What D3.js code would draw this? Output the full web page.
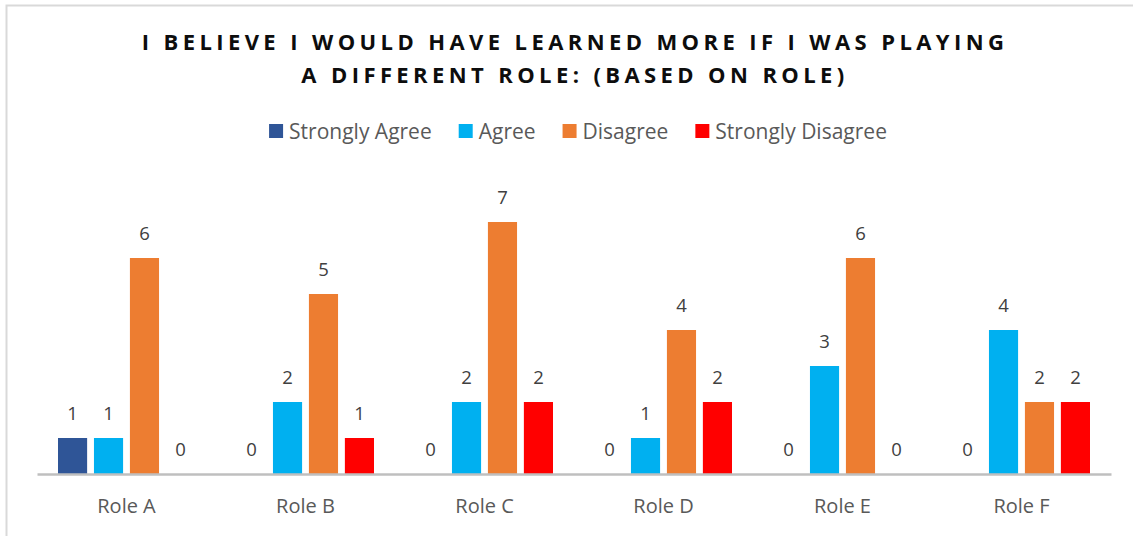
<!DOCTYPE html>
<html>
<head>
<meta charset="utf-8">
<script src="https://cdn.jsdelivr.net/npm/d3@7"></script>
<style>
  body { margin: 0; background: #fff; }
  svg text { font-family: "Open Sans", "Liberation Sans", sans-serif; }
</style>
</head>
<body>
<svg id="chart" width="1133" height="536"></svg>
<script>
const roles = ["Role A", "Role B", "Role C", "Role D", "Role E", "Role F"];
const seriesNames = ["Strongly Agree", "Agree", "Disagree", "Strongly Disagree"];
const seriesColors = ["#2F5597", "#00B0F0", "#ED7D31", "#FF0000"];
const stronglyAgree = [1, 0, 0, 0, 0, 0];
const agree = [1, 2, 2, 1, 3, 4];
const disagree = [6, 5, 7, 4, 6, 2];
const stronglyDisagree = [0, 1, 2, 2, 0, 2];
const titleLines = ["I BELIEVE I WOULD HAVE LEARNED MORE IF I WAS PLAYING", "A DIFFERENT ROLE: (BASED ON ROLE)"];

const values = [stronglyAgree, agree, disagree, stronglyDisagree];

const width = 1133, height = 536;
const svg = d3.select("#chart");

// outer chart border (right/bottom fall off the canvas)
svg.append("rect")
  .attr("x", 6.5).attr("y", 5.5)
  .attr("width", 1140).attr("height", 540)
  .attr("fill", "none")
  .attr("stroke", "#d9d9d9")
  .attr("stroke-width", 2);

// title
svg.append("g").selectAll("text")
  .data(titleLines)
  .enter().append("text")
  .attr("x", 575)
  .attr("y", (d, i) => 50 + i * 33)
  .attr("text-anchor", "middle")
  .style("font-size", "22px")
  .style("font-weight", "bold")
  .style("letter-spacing", "4.4px")
  .attr("fill", "#0d0d0d")
  .text(d => d);

// scales
const x = d3.scaleBand().domain(roles).range([37, 1111]);
const xInner = d3.scaleBand().domain(seriesNames)
  .range([21, x.bandwidth() - 21])
  .paddingInner(0.19);
const y = d3.scaleLinear().domain([0, 7]).range([474, 222]);
const color = d3.scaleOrdinal().domain(seriesNames).range(seriesColors);

// legend, laid out from measured text widths and centred
const legendG = svg.append("g");
const legend = legendG.selectAll("g")
  .data(seriesNames)
  .enter().append("g");
legend.append("rect")
  .attr("y", 124)
  .attr("width", 14).attr("height", 14)
  .attr("fill", d => color(d));
legend.append("text")
  .attr("x", 20).attr("y", 139)
  .style("font-size", "21px")
  .attr("fill", "#595959")
  .text(d => d);
let lx = 0;
legend.each(function() {
  const w = 20 + d3.select(this).select("text").node().getComputedTextLength();
  d3.select(this).attr("transform", "translate(" + lx + ",0)");
  lx += w + 27;
});
lx -= 27;
legendG.attr("transform", "translate(" + (578 - lx / 2) + ",0)");

// bars
const rows = [];
roles.forEach((r, ri) => {
  seriesNames.forEach((s, si) => {
    rows.push({ role: r, series: s, value: values[si][ri] });
  });
});

const plot = svg.append("g");
plot.selectAll("rect.bar")
  .data(rows)
  .enter().append("rect")
  .attr("class", "bar")
  .attr("x", d => x(d.role) + xInner(d.series))
  .attr("y", d => y(d.value))
  .attr("width", xInner.bandwidth())
  .attr("height", d => y(0) - y(d.value))
  .attr("fill", d => color(d.series));

plot.selectAll("text.val")
  .data(rows)
  .enter().append("text")
  .attr("class", "val")
  .attr("x", d => x(d.role) + xInner(d.series) + xInner.bandwidth() / 2)
  .attr("y", d => y(d.value) - 18)
  .attr("text-anchor", "middle")
  .style("font-size", "18.5px")
  .attr("fill", "#404040")
  .text(d => d.value);

// x axis
const xAxis = svg.append("g")
  .attr("transform", "translate(0," + y(0) + ")")
  .call(d3.axisBottom(x).tickSize(0).tickPadding(25));
xAxis.select(".domain")
  .attr("stroke", "#bfbfbf")
  .attr("stroke-width", 2.5);
xAxis.selectAll("text")
  .style("font-size", "20px")
  .style("font-family", "\"Open Sans\", sans-serif")
  .attr("fill", "#595959");
</script>
</body>
</html>
